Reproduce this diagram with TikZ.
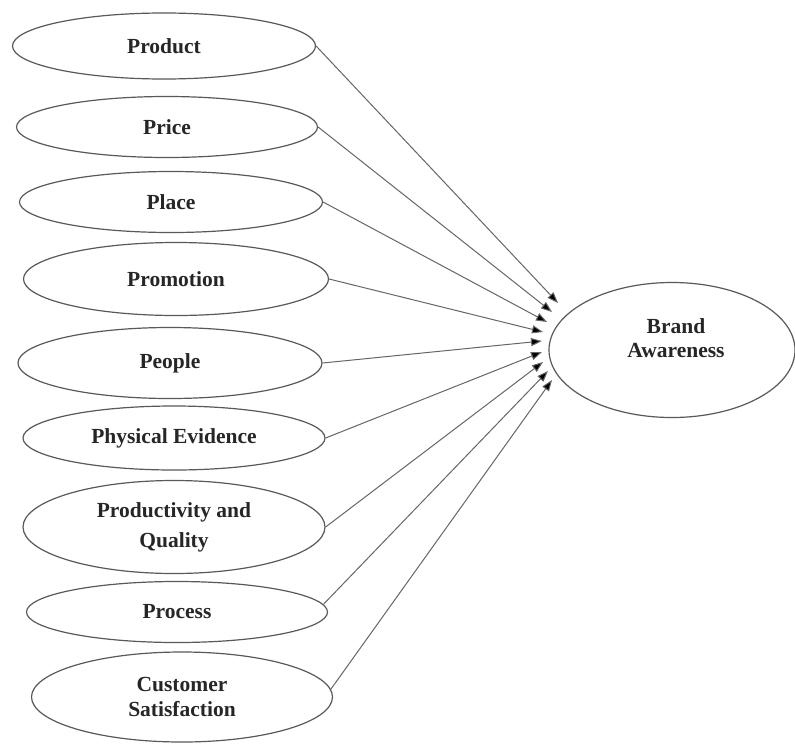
\documentclass[tikz,border=0pt]{standalone}
\usepackage{fontspec}
\setmainfont{Liberation Serif}
\usetikzlibrary{shapes.geometric,arrows.meta}
\tikzset{
  oval/.style={ellipse, draw=black!65, line width=1.2pt, inner sep=0pt,
    font=\fontsize{21.5}{29}\selectfont\bfseries, align=center, text=black!85},
  link/.style={draw=black!60, line width=1pt, -{Triangle[length=11pt,width=8pt,fill=black]}}
}
\begin{document}
\begin{tikzpicture}[x=1pt,y=-1pt]
\useasboundingbox[fill=white] (0,0) rectangle (795,745);
\node[oval, minimum width=303pt, minimum height=66pt] (prod) at (164,46) {Product};
\node[oval, minimum width=301pt, minimum height=61pt] (price) at (167,127) {Price};
\node[oval, minimum width=303pt, minimum height=61pt] (place) at (171,202) {Place};
\node[oval, minimum width=305pt, minimum height=73pt] (promo) at (176,279) {Promotion};
\node[oval, minimum width=304pt, minimum height=71pt] (people) at (170,363) {People};
\node[oval, minimum width=302pt, minimum height=64pt] (phys) at (174,438) {Physical Evidence};
\node[oval, minimum width=302pt, minimum height=93pt] (qual) at (174,527) {Productivity and\\[1pt]Quality};
\node[oval, minimum width=301pt, minimum height=61pt] (proc) at (177,612) {Process};
\node[oval, minimum width=301pt, minimum height=90pt] (cust) at (182,697) {Customer\\[-4pt]Satisfaction};
\node[oval, minimum width=246pt, minimum height=135pt,
  label={[font=\fontsize{21.5}{27}\selectfont\bfseries, align=center, text=black!85, yshift=12pt, xshift=4pt]center:Brand\\[-3pt]Awareness}] (ba) at (672,350) {};

\coordinate (t1) at (558,303);
\coordinate (t2) at (552,312);
\coordinate (t3) at (547,322);
\coordinate (t4) at (543,332);
\coordinate (t5) at (542,341);
\coordinate (t6) at (542,352);
\coordinate (t7) at (543,362);
\coordinate (t8) at (548,371);
\coordinate (t9) at (552,380);

\draw[link] (prod.east) -- (t1);
\draw[link] (price.east) -- (t2);
\draw[link] (place.east) -- (t3);
\draw[link] (promo.east) -- (t4);
\draw[link] (people.east) -- (t5);
\draw[link] (phys.east) -- (t6);
\draw[link] (qual.east) -- (t7);
\draw[link] (proc.3) -- (t8);
\draw[link] (cust.3) -- (t9);
\end{tikzpicture}
\end{document}
